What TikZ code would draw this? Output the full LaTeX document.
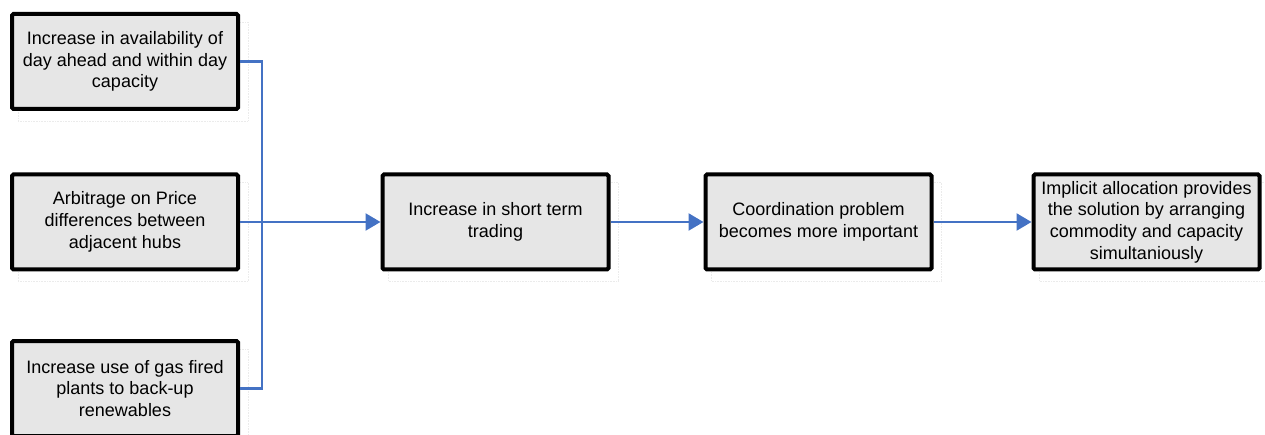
\documentclass[tikz,border=0pt]{standalone}
\usepackage{fontspec}
\setmainfont{Liberation Sans}
\usetikzlibrary{arrows.meta,backgrounds}
\definecolor{connblue}{RGB}{68,114,196}
\definecolor{boxfill}{RGB}{230,230,230}
\tikzset{
  stepbox/.style={draw=black, line width=4pt, fill=boxfill, rounded corners=1.5pt,
    minimum width=226pt, minimum height=95pt, align=center, inner sep=2pt,
    font=\fontsize{18}{21.7}\selectfont},
  shadowrect/.style={draw=black!8, line width=0.6pt, densely dotted},
  conn/.style={draw=connblue, line width=2.4pt},
  arr/.style={conn, -{Triangle[length=15pt,width=17pt]}}
}
\begin{document}
\begin{tikzpicture}[x=1pt,y=-1pt]
\useasboundingbox (0,0) rectangle (1265,435);
\node[stepbox] (b1) at (125,61.5) {Increase in availability of\\day ahead and within day\\capacity};
\node[stepbox] (b2) at (125,222) {Arbitrage on Price\\differences between\\adjacent hubs};
\node[stepbox] (b3) at (125,388.5) {Increase use of gas fired\\plants to back-up\\renewables};
\node[stepbox] (b4) at (495.5,222) {Increase in short term\\trading};
\node[stepbox] (b5) at (818.5,222) {Coordination problem\\becomes more important};
\node[stepbox] (b6) at (1146.5,222) {Implicit allocation provides\\the solution by arranging\\commodity and capacity\\simultaniously};
\begin{scope}[on background layer]
\foreach \n in {b1,b2,b3,b4,b5,b6}
  \draw[shadowrect] ([shift={(8,10)}]\n.north west) rectangle ([shift={(8,10)}]\n.south east);
\end{scope}
\coordinate (j) at (262,222);
\draw[conn] (b1.east) -| (j) |- (b3.east);
\draw[arr] (b2.east) -- (b4.west);
\draw[arr] (b4.east) -- (b5.west);
\draw[arr] (b5.east) -- (b6.west);
\end{tikzpicture}
\end{document}
